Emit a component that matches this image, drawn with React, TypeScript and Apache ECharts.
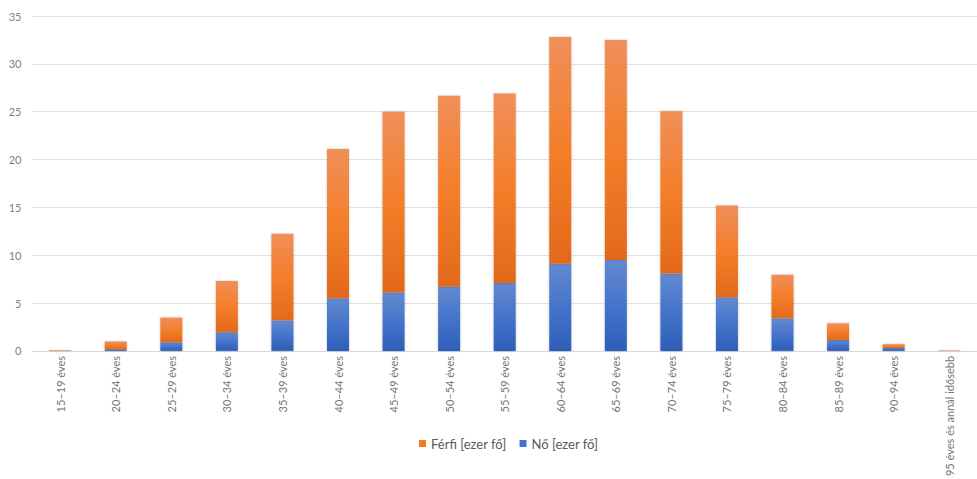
import React, { useEffect, useRef } from "react";
import * as echarts from "echarts";

const categories = [
  "15–19 éves", "20–24 éves", "25–29 éves", "30–34 éves", "35–39 éves",
  "40–44 éves", "45–49 éves", "50–54 éves", "55–59 éves", "60–64 éves",
  "65–69 éves", "70–74 éves", "75–79 éves", "80–84 éves", "85–89 éves",
  "90–94 éves", "95 éves és annál idősebb",
];
const noValues = [0.02, 0.18, 0.9, 1.95, 3.2, 5.5, 6.1, 6.7, 7.1, 9.1, 9.5, 8.1, 5.6, 3.4, 1.15, 0.3, 0.02];
const ferfiValues = [0.05, 0.8, 2.58, 5.35, 9.05, 15.6, 18.9, 19.97, 19.8, 23.7, 23.0, 16.95, 9.6, 4.55, 1.73, 0.4, 0.04];
const yTicks = { min: 0, max: 35, interval: 5 };

const FONT = "Lato, 'Open Sans', sans-serif";

export default function App() {
  const ref = useRef<HTMLDivElement>(null);
  useEffect(() => {
    if (!ref.current) return;
    const chart = echarts.init(ref.current, null, { renderer: "svg" });
    const orange = new echarts.graphic.LinearGradient(0, 0, 0, 1, [
      { offset: 0, color: "#F08F5A" },
      { offset: 0.5, color: "#F47E2A" },
      { offset: 1, color: "#E2691A" },
    ]);
    const blue = new echarts.graphic.LinearGradient(0, 0, 0, 1, [
      { offset: 0, color: "#6389D0" },
      { offset: 0.5, color: "#4574CA" },
      { offset: 1, color: "#2D5EB8" },
    ]);
    chart.setOption({
      animation: false,
      textStyle: { fontFamily: FONT },
      grid: { left: 32.4, top: 16, width: 958.8, bottom: 125.5 },
      legend: {
        data: [
          { name: "Férfi [ezer fő]", itemStyle: { color: "#F07E26" } },
          { name: "Nő [ezer fő]", itemStyle: { color: "#4472C4" } },
        ],
        left: 414,
        top: 432,
        icon: "rect",
        itemWidth: 7,
        itemHeight: 7,
        itemGap: 13,
        textStyle: { color: "#595959", fontSize: 13, fontFamily: FONT },
      },
      xAxis: {
        type: "category",
        data: categories,
        axisLine: { lineStyle: { color: "#d9d9d9" } },
        axisTick: { show: false },
        axisLabel: { rotate: 90, interval: 0, color: "#767676", fontSize: 11, margin: 5, fontFamily: FONT },
      },
      yAxis: {
        type: "value",
        min: yTicks.min,
        max: yTicks.max,
        interval: yTicks.interval,
        axisLine: { show: false },
        axisTick: { show: false },
        splitLine: { lineStyle: { color: "#e0e0e0", width: 1 } },
        axisLabel: { color: "#7f7f7f", fontSize: 11, margin: 11, fontFamily: FONT },
      },
      series: [
        {
          name: "Nő [ezer fő]",
          type: "bar",
          stack: "total",
          data: noValues,
          barWidth: 22,
          itemStyle: { color: blue, shadowColor: "rgba(0,0,0,0.25)", shadowBlur: 2 },
        },
        {
          name: "Férfi [ezer fő]",
          type: "bar",
          stack: "total",
          data: ferfiValues,
          barWidth: 22,
          itemStyle: { color: orange, shadowColor: "rgba(0,0,0,0.25)", shadowBlur: 2 },
        },
      ],
    });
    return () => chart.dispose();
  }, []);
  return <div ref={ref} style={{ width: 977, height: 479, position: "absolute", left: 0, top: 0, overflow: "hidden" }} />;
}
